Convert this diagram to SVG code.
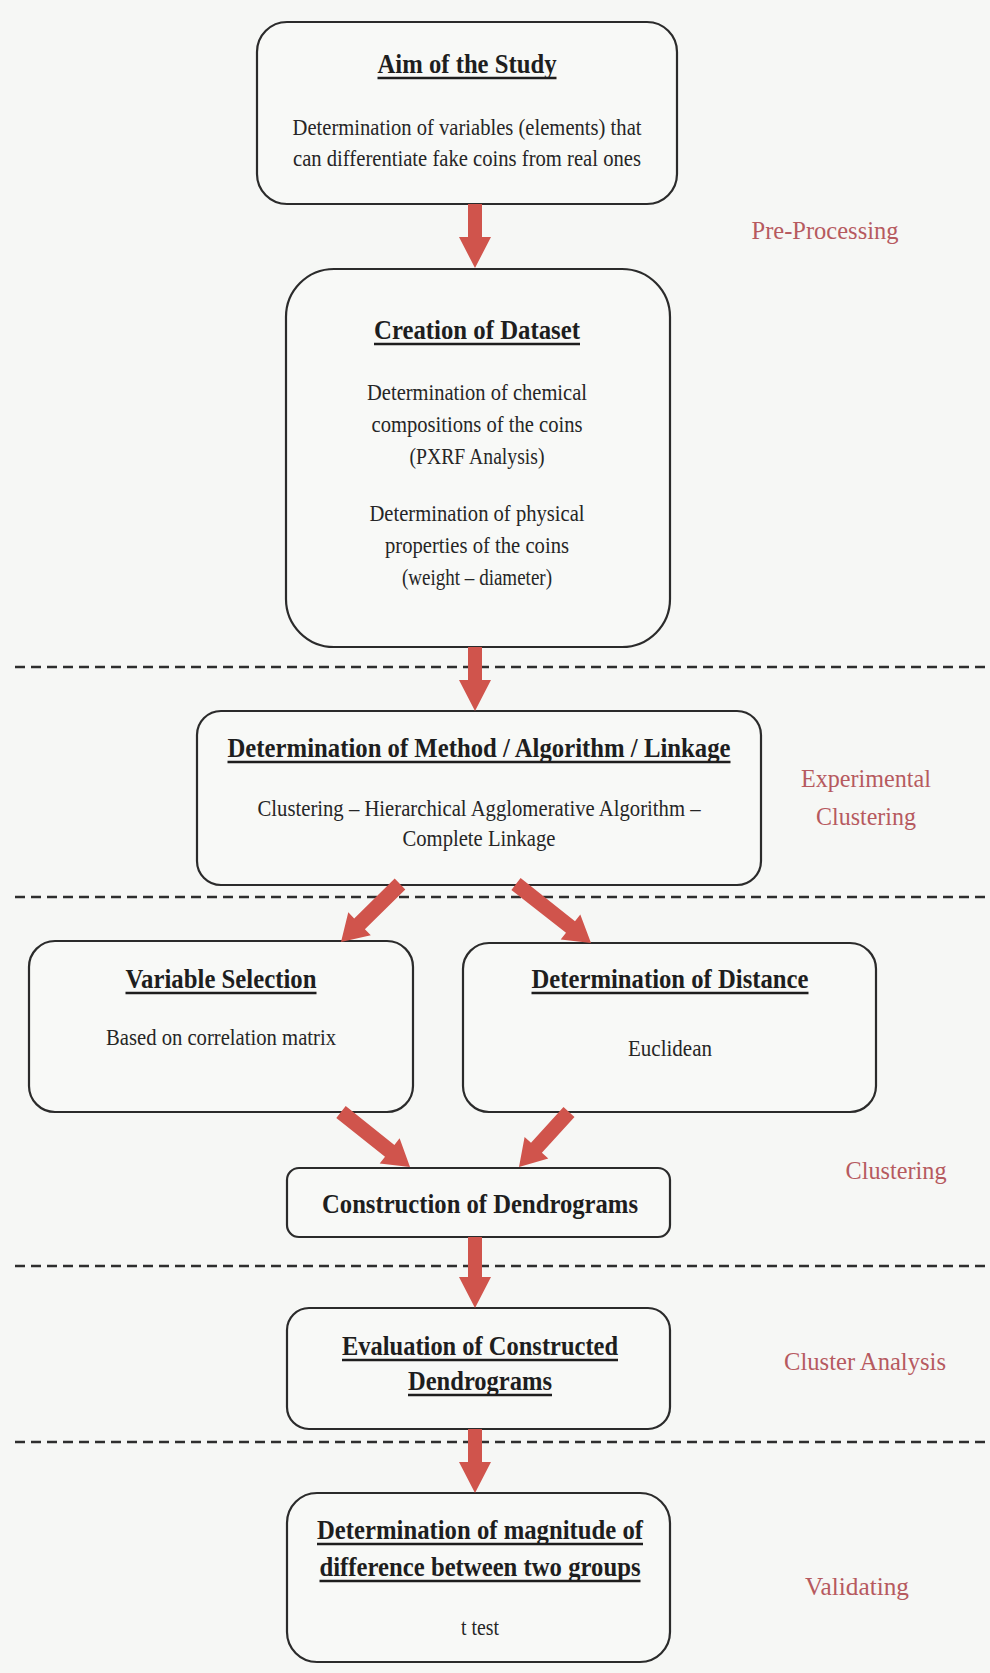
<svg xmlns="http://www.w3.org/2000/svg" width="990" height="1673" viewBox="0 0 990 1673">
  <style>
    .box { fill: #f8f9f7; stroke: #2b2b2b; stroke-width: 2.2; }
    .title { font-family: "Liberation Serif", "Times New Roman", serif; font-weight: bold; font-size: 27px; fill: #1e1e1e; text-anchor: middle; }
    .body { font-family: "Liberation Serif", "Times New Roman", serif; font-size: 23px; fill: #262626; text-anchor: middle; }
    .phase { font-family: "Liberation Serif", "Times New Roman", serif; font-size: 25.5px; fill: #b65a5f; text-anchor: middle; }
    .ul { stroke: #1e1e1e; stroke-width: 2.6; }
    .sep { stroke: #2e2e2e; stroke-width: 2.6; stroke-dasharray: 10 6; fill: none; }
    .arrow { fill: #d0544c; }
  </style>

  <rect width="990" height="1673" fill="#f6f7f5"/>

  <!-- phase separators -->
  <g id="separators">
    <line class="sep" x1="15" y1="667" x2="990" y2="667"/>
    <line class="sep" x1="15" y1="897" x2="990" y2="897"/>
    <line class="sep" x1="15" y1="1266" x2="990" y2="1266"/>
    <line class="sep" x1="15" y1="1442" x2="990" y2="1442"/>
  </g>

  <!-- phase labels -->
  <g id="phases">
    <text class="phase" x="825" y="239" textLength="147" lengthAdjust="spacingAndGlyphs">Pre-Processing</text>
    <text class="phase" x="866" y="787" textLength="130" lengthAdjust="spacingAndGlyphs">Experimental</text>
    <text class="phase" x="866" y="825" textLength="100" lengthAdjust="spacingAndGlyphs">Clustering</text>
    <text class="phase" x="896" y="1179" textLength="101" lengthAdjust="spacingAndGlyphs">Clustering</text>
    <text class="phase" x="865" y="1370" textLength="162" lengthAdjust="spacingAndGlyphs">Cluster Analysis</text>
    <text class="phase" x="857" y="1595" textLength="104" lengthAdjust="spacingAndGlyphs">Validating</text>
  </g>

  <g id="aim">
    <rect class="box" x="257" y="22" width="420" height="182" rx="30"/>
    <text class="title" x="467" y="73" textLength="179" lengthAdjust="spacingAndGlyphs">Aim of the Study</text>
    <line class="ul" x1="377.5" y1="78" x2="556.5" y2="78"/>
    <text class="body" x="467" y="135" textLength="349" lengthAdjust="spacingAndGlyphs">Determination of variables (elements) that</text>
    <text class="body" x="467" y="166" textLength="348" lengthAdjust="spacingAndGlyphs">can differentiate fake coins from real ones</text>
  </g>

  <g id="dataset">
    <rect class="box" x="286" y="269" width="384" height="378" rx="48"/>
    <text class="title" x="477" y="339" textLength="206" lengthAdjust="spacingAndGlyphs">Creation of Dataset</text>
    <line class="ul" x1="374" y1="344" x2="580" y2="344"/>
    <text class="body" x="477" y="400" textLength="220" lengthAdjust="spacingAndGlyphs">Determination of chemical</text>
    <text class="body" x="477" y="432" textLength="211" lengthAdjust="spacingAndGlyphs">compositions of the coins</text>
    <text class="body" x="477" y="464" textLength="135" lengthAdjust="spacingAndGlyphs">(PXRF Analysis)</text>
    <text class="body" x="477" y="521" textLength="215" lengthAdjust="spacingAndGlyphs">Determination of physical</text>
    <text class="body" x="477" y="553" textLength="184" lengthAdjust="spacingAndGlyphs">properties of the coins</text>
    <text class="body" x="477" y="585" textLength="150" lengthAdjust="spacingAndGlyphs">(weight – diameter)</text>
  </g>

  <g id="method">
    <rect class="box" x="197" y="711" width="564" height="174" rx="24"/>
    <text class="title" x="479" y="757" textLength="503" lengthAdjust="spacingAndGlyphs">Determination of Method / Algorithm / Linkage</text>
    <line class="ul" x1="227.5" y1="762" x2="730.5" y2="762"/>
    <text class="body" x="479" y="816" textLength="443" lengthAdjust="spacingAndGlyphs">Clustering – Hierarchical Agglomerative Algorithm –</text>
    <text class="body" x="479" y="846" textLength="153" lengthAdjust="spacingAndGlyphs">Complete Linkage</text>
  </g>

  <g id="variables">
    <rect class="box" x="29" y="941" width="384" height="171" rx="26"/>
    <text class="title" x="221" y="988" textLength="191" lengthAdjust="spacingAndGlyphs">Variable Selection</text>
    <line class="ul" x1="125.5" y1="993" x2="316.5" y2="993"/>
    <text class="body" x="221" y="1045" textLength="230" lengthAdjust="spacingAndGlyphs">Based on correlation matrix</text>
  </g>

  <g id="distance">
    <rect class="box" x="463" y="943" width="413" height="169" rx="26"/>
    <text class="title" x="670" y="988" textLength="277" lengthAdjust="spacingAndGlyphs">Determination of Distance</text>
    <line class="ul" x1="531.5" y1="993" x2="808.5" y2="993"/>
    <text class="body" x="670" y="1056" textLength="84" lengthAdjust="spacingAndGlyphs">Euclidean</text>
  </g>

  <g id="dendrograms">
    <rect class="box" x="287" y="1168" width="383" height="69" rx="12"/>
    <text class="title" x="480" y="1213" textLength="316" lengthAdjust="spacingAndGlyphs">Construction of Dendrograms</text>
  </g>

  <g id="evaluation">
    <rect class="box" x="287" y="1308" width="383" height="121" rx="22"/>
    <text class="title" x="480" y="1355" textLength="276" lengthAdjust="spacingAndGlyphs">Evaluation of Constructed</text>
    <line class="ul" x1="342" y1="1360" x2="618" y2="1360"/>
    <text class="title" x="480" y="1390" textLength="144" lengthAdjust="spacingAndGlyphs">Dendrograms</text>
    <line class="ul" x1="408" y1="1395" x2="552" y2="1395"/>
  </g>

  <g id="validation">
    <rect class="box" x="287" y="1493" width="383" height="169" rx="30"/>
    <text class="title" x="480" y="1539" textLength="326" lengthAdjust="spacingAndGlyphs">Determination of magnitude of</text>
    <line class="ul" x1="317" y1="1544" x2="643" y2="1544"/>
    <text class="title" x="480" y="1576" textLength="321" lengthAdjust="spacingAndGlyphs">difference between two groups</text>
    <line class="ul" x1="319.5" y1="1581" x2="640.5" y2="1581"/>
    <text class="body" x="480" y="1635" textLength="38" lengthAdjust="spacingAndGlyphs">t test</text>
  </g>

  <!-- block arrows between steps -->
  <g id="connectors">
    <polygon class="arrow" points="468,204 482,204 482,237 491,237 475,268 459,237 468,237"/>
    <polygon class="arrow" points="468,647 482,647 482,680 491,680 475,711 459,680 468,680"/>
    <polygon class="arrow" points="394.7,878.6 354.2,918.4 348.3,912.3 341,942 370.8,935.2 364.9,929.2 405.3,889.4"/>
    <polygon class="arrow" points="511.4,889.9 566,932.8 560.7,939.5 591,943 580.3,914.5 575,921.2 520.6,878.1"/>
    <polygon class="arrow" points="336.3,1117.9 385,1156.7 379.7,1163.4 410,1167 399.6,1138.3 394.4,1144.9 345.7,1106.1"/>
    <polygon class="arrow" points="563.5,1107 531,1142.8 524.6,1136.9 519,1167 548.3,1158.6 541.9,1152.8 574.5,1117"/>
    <polygon class="arrow" points="468,1237 482,1237 482,1277 491,1277 475,1308 459,1277 468,1277"/>
    <polygon class="arrow" points="468,1429 482,1429 482,1462 491,1462 475,1493 459,1462 468,1462"/>
  </g>
</svg>
